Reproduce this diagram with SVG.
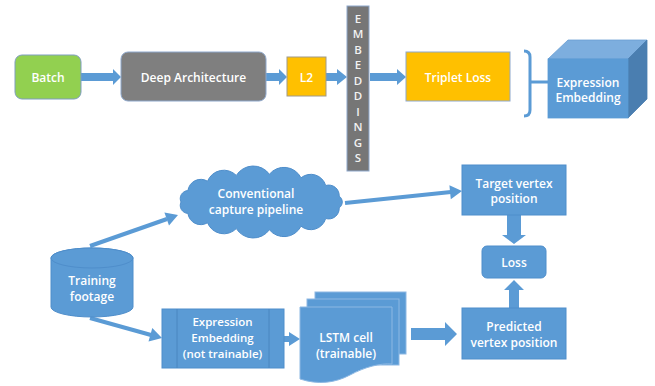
<svg xmlns="http://www.w3.org/2000/svg" width="655" height="386" viewBox="0 0 655 386">
<style>
  .t { font-family: "Open Sans", "Liberation Sans", sans-serif; font-weight: 600; font-size: 12px; fill: #ffffff; text-anchor: middle; }
  .s { font-size: 11.5px; }
  .v { font-family: "Open Sans", "Liberation Sans", sans-serif; font-weight: 600; font-size: 11.5px; fill: #f2f2f2; text-anchor: middle; }
  .blue { fill: #5B9BD5; stroke: #4F8ECB; stroke-width: 1; }
  .arr { fill: #5B9BD5; stroke: none; }
  .ln { stroke: #5B9BD5; stroke-width: 4; fill: none; }
</style>
<rect width="655" height="386" fill="#ffffff"/>

<g id="connectors">
  <polygon class="arr" points="81,73 113,73 113,69 121,77 113,85 113,81 81,81"/>
  <polygon class="arr" points="266,73 279,73 279,69 287,77 279,85 279,81 266,81"/>
  <polygon class="arr" points="326,73 337,73 337,69 347,77 337,85 337,81 326,81"/>
  <polygon class="arr" points="370,73 397,73 397,69 406,77 397,85 397,81 370,81"/>
  <path d="M524 51 Q530 51 530 57 V110 Q530 116 524 116 M530 82 H548" stroke="#5B9BD5" stroke-width="3" fill="none"/>
  <line class="ln" x1="90" y1="246" x2="167" y2="219"/>
  <polygon class="arr" points="178,215 169,225.6 164.4,212.4"/>
  <line class="ln" x1="345" y1="203" x2="451" y2="192"/>
  <polygon class="arr" points="462,191 450.8,199.2 449.4,185.2"/>
  <line class="ln" x1="90" y1="318" x2="151" y2="335"/>
  <polygon class="arr" points="162,338 148.5,341.5 152.3,328.1"/>
  <polygon class="arr" points="284,336 289,336 289,332 300,339 289,346 289,342 284,342"/>
  <polygon class="arr" points="411,328 445,328 445,322 457,334 445,346 445,340 411,340"/>
  <polygon class="arr" points="507,215 521,215 521,235 526,235 514,244 502,235 507,235"/>
  <polygon class="arr" points="509,308 519,308 519,290 524,290 514,280 504,290 509,290"/>
</g>

<g id="batch">
  <rect x="15" y="55" width="66" height="44" rx="7" fill="#92D050" stroke="#7F9DC0" stroke-width="1"/>
  <text class="t" x="48" y="81.5">Batch</text>
</g>

<g id="deep-architecture">
  <rect x="121" y="52" width="145" height="49" rx="7" fill="#7F7F7F" stroke="#8EA8CC" stroke-width="1"/>
  <text class="t" x="193.5" y="81.5">Deep Architecture</text>
</g>

<g id="l2">
  <rect x="287" y="57" width="39" height="39" fill="#FFC000" stroke="#A09A8A" stroke-width="1"/>
  <text class="t" x="306.5" y="81.5">L2</text>
</g>

<g id="embeddings">
  <rect x="347" y="6" width="22" height="165" fill="#767676" stroke="#8EA8CC" stroke-width="1"/>
  <text class="v" x="358" y="22.5">E</text>
  <text class="v" x="358" y="38">M</text>
  <text class="v" x="358" y="53.5">B</text>
  <text class="v" x="358" y="69">E</text>
  <text class="v" x="358" y="84.5">D</text>
  <text class="v" x="358" y="100">D</text>
  <text class="v" x="358" y="115.5">I</text>
  <text class="v" x="358" y="131">N</text>
  <text class="v" x="358" y="146.5">G</text>
  <text class="v" x="358" y="162">S</text>
</g>

<g id="triplet-loss">
  <rect x="406" y="52" width="104" height="49" fill="#FFC000" stroke="#8EA8CC" stroke-width="1"/>
  <text class="t" x="458" y="81.5">Triplet Loss</text>
</g>

<g id="expression-embedding-cube">
  <polygon points="548,59 568,40 647,40 628,59" fill="#7DAEDE" stroke="#6A9ED3" stroke-width="0.8"/>
  <polygon points="628,59 647,40 647,99 628,118" fill="#4A7EB0" stroke="#4A7EB0" stroke-width="0.8"/>
  <rect x="548" y="59" width="80" height="59" fill="#5B9BD5" stroke="#5B9BD5" stroke-width="0.8"/>
  <text class="t" x="588" y="86.5">Expression</text>
  <text class="t" x="588" y="102">Embedding</text>
</g>

<g id="conventional-capture-pipeline">
  <path class="blue" d="M181 202 A8 8 0 0 1 187.9 190.6 A13 13 0 0 1 207.5 181.2 A17.6 17.6 0 0 1 236.3 175.4 A20 20 0 0 1 269.4 174.2 A19 19 0 0 1 301 177.8 A15.5 15.5 0 0 1 325.7 185.5 A10.5 10.5 0 0 1 339.2 196.2 A7 7 0 0 1 339.2 207.8 A10.5 10.5 0 0 1 325.7 218.5 A15.5 15.5 0 0 1 301 226.2 A19 19 0 0 1 269.4 229.8 A20 20 0 0 1 236.3 228.6 A17.6 17.6 0 0 1 207.5 222.8 A13 13 0 0 1 187.9 213.4 A8 8 0 0 1 181 202 Z"/>
  <text class="t" x="256" y="197.5">Conventional</text>
  <text class="t" x="256" y="213.5">capture pipeline</text>
</g>

<g id="training-footage">
  <path class="blue" d="M51 258 V307 A41 10 0 0 0 133 307 V258 A41 10 0 0 0 51 258 Z"/>
  <ellipse cx="92" cy="258" rx="41" ry="10" fill="#5B9BD5" stroke="#4F8ECB" stroke-width="1"/>
  <text class="t" x="92" y="284.5">Training</text>
  <text class="t" x="92" y="300.5">footage</text>
</g>

<g id="expression-embedding-not-trainable">
  <rect class="blue" x="162" y="309" width="122" height="59"/>
  <line x1="177" y1="309" x2="177" y2="368" stroke="#4A86C0" stroke-width="1"/>
  <line x1="269" y1="309" x2="269" y2="368" stroke="#4A86C0" stroke-width="1"/>
  <text class="t s" x="222.5" y="326">Expression</text>
  <text class="t s" x="222.5" y="342">Embedding</text>
  <text class="t s" x="222.5" y="358">(not trainable)</text>
</g>

<g id="lstm-cell">
  <rect x="315" y="292" width="91" height="62" fill="#5B9BD5" stroke="#8DB8E3" stroke-width="1"/>
  <rect x="307" y="299" width="92" height="66" fill="#5B9BD5" stroke="#8DB8E3" stroke-width="1"/>
  <path d="M300 307 H392 V364 C380 363 365 367 350 375 C335 383 318 385 300 379 Z" fill="#5B9BD5" stroke="#8DB8E3" stroke-width="1"/>
  <text class="t" x="346" y="341.5">LSTM cell</text>
  <text class="t" x="346" y="357.5">(trainable)</text>
</g>

<g id="target-vertex-position">
  <rect class="blue" x="462" y="165" width="104" height="50"/>
  <text class="t" x="514" y="187.5">Target vertex</text>
  <text class="t" x="514" y="203">position</text>
</g>

<g id="loss">
  <rect class="blue" x="482" y="246" width="64" height="32" rx="5"/>
  <text class="t" x="514" y="266.5">Loss</text>
</g>

<g id="predicted-vertex-position">
  <rect class="blue" x="462" y="308" width="104" height="51"/>
  <text class="t" x="514" y="330.5">Predicted</text>
  <text class="t" x="514" y="346.5">vertex position</text>
</g>
</svg>
